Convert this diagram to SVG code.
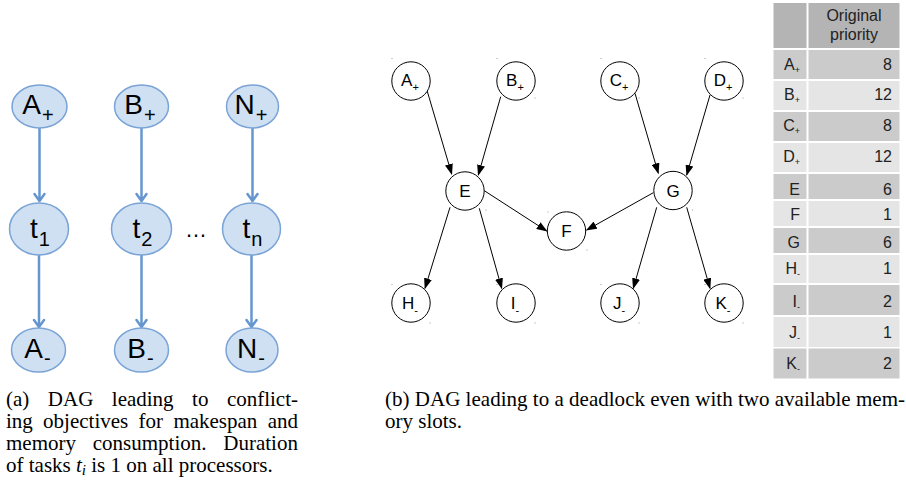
<svg xmlns="http://www.w3.org/2000/svg" width="906" height="491" viewBox="0 0 906 491">
<defs>
<style>
.bl{fill:#cfe0f3;stroke:#7aa3d6;stroke-width:1.5}
.ba{stroke:#6596cf;stroke-width:2.5;fill:none;stroke-linecap:round;stroke-linejoin:round}
.bt{font-family:"Liberation Sans",Arial,sans-serif;font-size:28px;fill:#000;text-anchor:middle}
.bs{font-size:20px}
.nc{fill:#fff;stroke:#000;stroke-width:1}
.nt{font-family:"Liberation Sans",Arial,sans-serif;font-size:17px;fill:#000;text-anchor:middle}
.ns{font-size:11px}
.ed{stroke:#000;stroke-width:1;fill:none}
.dt{fill:#999}
.dk{fill:#cbcbcb}
.lt{fill:#e5e5e5}
.hd{fill:#b4b4b4}
.tl{font-family:"Liberation Sans",Arial,sans-serif;font-size:16px;fill:#222;text-anchor:end}
.tn{font-family:"Liberation Sans",Arial,sans-serif;font-size:16px;fill:#222;text-anchor:end}
.th{font-family:"Liberation Sans",Arial,sans-serif;font-size:16px;fill:#222;text-anchor:middle}
.ts{font-size:9px}
.cap{font-family:"Liberation Serif","Times New Roman",serif;font-size:21px;fill:#000}
</style>
<marker id="ah" markerWidth="11" markerHeight="8" refX="10" refY="4" orient="auto" markerUnits="userSpaceOnUse">
<path d="M0,0 L11,4 L0,8 z" fill="#000"/>
</marker>
</defs>

<!-- (a) left DAG -->
<g id="a-connectors">
<path class="ba" d="M39.5,128 V201 M34.5,194 L39.5,201 L44.5,194"/>
<path class="ba" d="M39,255 V327 M34,320 L39,327 L44,320"/>
<path class="ba" d="M141.5,128 V201 M136.5,194 L141.5,201 L146.5,194"/>
<path class="ba" d="M141.5,255 V327 M136.5,320 L141.5,327 L146.5,320"/>
<path class="ba" d="M252.5,128 V201 M247.5,194 L252.5,201 L257.5,194"/>
<path class="ba" d="M251.5,255 V327 M246.5,320 L251.5,327 L256.5,320"/>
</g>
<g id="a-Aplus"><ellipse class="bl" cx="39.5" cy="106.5" rx="27.5" ry="21.5"/><text class="bt" x="38" y="114">A<tspan class="bs" dx="1" dy="8">+</tspan></text></g>
<g id="a-Bplus"><ellipse class="bl" cx="141.5" cy="106.5" rx="27" ry="21.5"/><text class="bt" x="140" y="114">B<tspan class="bs" dx="1" dy="8">+</tspan></text></g>
<g id="a-Nplus"><ellipse class="bl" cx="252.5" cy="106.5" rx="26" ry="21.5"/><text class="bt" x="251" y="114">N<tspan class="bs" dx="1" dy="8">+</tspan></text></g>
<g id="a-t1"><ellipse class="bl" cx="39" cy="229" rx="29.5" ry="26"/><text class="bt" x="40" y="238">t<tspan class="bs" dx="1" dy="8">1</tspan></text></g>
<g id="a-t2"><ellipse class="bl" cx="141.5" cy="229" rx="30" ry="26"/><text class="bt" x="142.5" y="238">t<tspan class="bs" dx="1" dy="8">2</tspan></text></g>
<g id="a-tn"><ellipse class="bl" cx="251.5" cy="229" rx="29" ry="26"/><text class="bt" x="252.5" y="238">t<tspan class="bs" dx="1" dy="8">n</tspan></text></g>
<g id="a-dots"><text class="bt" x="196" y="237" style="font-size:22px">…</text></g>
<g id="a-Aminus"><ellipse class="bl" cx="38.5" cy="350" rx="27" ry="22"/><text class="bt" x="37.5" y="358">A<tspan class="bs" dx="1" dy="7">-</tspan></text></g>
<g id="a-Bminus"><ellipse class="bl" cx="141.5" cy="350" rx="27" ry="22"/><text class="bt" x="140.5" y="358">B<tspan class="bs" dx="1" dy="7">-</tspan></text></g>
<g id="a-Nminus"><ellipse class="bl" cx="252" cy="350" rx="26" ry="22"/><text class="bt" x="251" y="358">N<tspan class="bs" dx="1" dy="7">-</tspan></text></g>

<!-- (b) right DAG -->
<g id="b-connectors">
<line class="ed" x1="426.7" y1="89.3" x2="451.7" y2="174" marker-end="url(#ah)"/>
<line class="ed" x1="500.7" y1="96.7" x2="478.3" y2="175" marker-end="url(#ah)"/>
<line class="ed" x1="635" y1="93.3" x2="658.3" y2="173.3" marker-end="url(#ah)"/>
<line class="ed" x1="710" y1="95" x2="686.7" y2="175" marker-end="url(#ah)"/>
<line class="ed" x1="484.3" y1="190.7" x2="546.7" y2="231" marker-end="url(#ah)"/>
<line class="ed" x1="653.3" y1="192.7" x2="586.7" y2="230" marker-end="url(#ah)"/>
<line class="ed" x1="450" y1="207.3" x2="425" y2="288.3" marker-end="url(#ah)"/>
<line class="ed" x1="479.3" y1="208.3" x2="501.7" y2="288.3" marker-end="url(#ah)"/>
<line class="ed" x1="656.7" y1="207.3" x2="633.3" y2="288.3" marker-end="url(#ah)"/>
<line class="ed" x1="686.7" y1="207.3" x2="710" y2="288.3" marker-end="url(#ah)"/>
</g>
<g id="b-Aplus"><circle class="nc" cx="411" cy="81" r="19.2"/><text class="nt" x="410" y="86">A<tspan class="ns" dy="5">+</tspan></text><rect class="dt" x="391.5" y="58" width="1" height="1"/><rect class="dt" x="429.5" y="97.5" width="1" height="1"/></g>
<g id="b-Bplus"><circle class="nc" cx="516" cy="81" r="19.2"/><text class="nt" x="515" y="86">B<tspan class="ns" dy="5">+</tspan></text><rect class="dt" x="496.5" y="58" width="1" height="1"/><rect class="dt" x="534.5" y="97.5" width="1" height="1"/></g>
<g id="b-Cplus"><circle class="nc" cx="620" cy="81" r="19.2"/><text class="nt" x="619" y="86">C<tspan class="ns" dy="5">+</tspan></text><rect class="dt" x="600.5" y="58" width="1" height="1"/><rect class="dt" x="638.5" y="97.5" width="1" height="1"/></g>
<g id="b-Dplus"><circle class="nc" cx="724" cy="81" r="19.2"/><text class="nt" x="723" y="86">D<tspan class="ns" dy="5">+</tspan></text><rect class="dt" x="704.5" y="58" width="1" height="1"/><rect class="dt" x="742.5" y="97.5" width="1" height="1"/></g>
<g id="b-E"><circle class="nc" cx="465" cy="191" r="19.2"/><text class="nt" x="465" y="197">E</text><rect class="dt" x="485.5" y="209.5" width="1" height="1"/></g>
<g id="b-F"><circle class="nc" cx="566.5" cy="231" r="19.2"/><text class="nt" x="566.5" y="237">F</text><rect class="dt" x="547.5" y="211.5" width="1" height="1"/><rect class="dt" x="586.5" y="249.5" width="1" height="1"/></g>
<g id="b-G"><circle class="nc" cx="673" cy="190.5" r="19.2"/><text class="nt" x="673" y="196.5">G</text><rect class="dt" x="692" y="209.5" width="1" height="1"/></g>
<g id="b-Hminus"><circle class="nc" cx="411" cy="303" r="19.2"/><text class="nt" x="410" y="309">H<tspan class="ns" dy="5">-</tspan></text><rect class="dt" x="391.5" y="284" width="1" height="1"/><rect class="dt" x="429.5" y="322.5" width="1" height="1"/></g>
<g id="b-Iminus"><circle class="nc" cx="516" cy="303" r="19.2"/><text class="nt" x="515" y="309">I<tspan class="ns" dy="5">-</tspan></text><rect class="dt" x="496.5" y="284" width="1" height="1"/><rect class="dt" x="534.5" y="322.5" width="1" height="1"/></g>
<g id="b-Jminus"><circle class="nc" cx="620" cy="303" r="19.2"/><text class="nt" x="619" y="309">J<tspan class="ns" dy="5">-</tspan></text><rect class="dt" x="600.5" y="284" width="1" height="1"/><rect class="dt" x="638.5" y="322.5" width="1" height="1"/></g>
<g id="b-Kminus"><circle class="nc" cx="724" cy="303" r="19.2"/><text class="nt" x="723" y="309">K<tspan class="ns" dy="5">-</tspan></text><rect class="dt" x="704.5" y="284" width="1" height="1"/><rect class="dt" x="742.5" y="322.5" width="1" height="1"/></g>

<!-- priority table -->
<g id="table">
<rect class="hd" x="773.5" y="3" width="33" height="45"/>
<rect class="hd" x="808.5" y="3" width="91" height="45"/>
<text class="th" x="854" y="21">Original</text>
<text class="th" x="854" y="40">priority</text>

<rect class="dk" x="773.5" y="50" width="33" height="29"/><rect class="dk" x="808.5" y="50" width="91" height="29"/>
<text class="tl" x="800" y="69.5">A<tspan class="ts" dy="3">+</tspan></text><text class="tn" x="892" y="69.5">8</text>

<rect class="lt" x="773.5" y="81" width="33" height="29"/><rect class="lt" x="808.5" y="81" width="91" height="29"/>
<text class="tl" x="800" y="100">B<tspan class="ts" dy="3">+</tspan></text><text class="tn" x="892" y="100">12</text>

<rect class="dk" x="773.5" y="112" width="33" height="29"/><rect class="dk" x="808.5" y="112" width="91" height="29"/>
<text class="tl" x="800" y="131">C<tspan class="ts" dy="3">+</tspan></text><text class="tn" x="892" y="131">8</text>

<rect class="lt" x="773.5" y="143" width="33" height="29"/><rect class="lt" x="808.5" y="143" width="91" height="29"/>
<text class="tl" x="800" y="162">D<tspan class="ts" dy="3">+</tspan></text><text class="tn" x="892" y="162">12</text>

<rect class="dk" x="773.5" y="174" width="33" height="25"/><rect class="dk" x="808.5" y="174" width="91" height="25"/>
<text class="tl" x="800" y="195">E</text><text class="tn" x="892" y="195">6</text>

<rect class="lt" x="773.5" y="201" width="33" height="25"/><rect class="lt" x="808.5" y="201" width="91" height="25"/>
<text class="tl" x="800" y="220">F</text><text class="tn" x="892" y="220">1</text>

<rect class="dk" x="773.5" y="228" width="33" height="25"/><rect class="dk" x="808.5" y="228" width="91" height="25"/>
<text class="tl" x="800" y="248">G</text><text class="tn" x="892" y="248">6</text>

<rect class="lt" x="773.5" y="255" width="33" height="28"/><rect class="lt" x="808.5" y="255" width="91" height="28"/>
<text class="tl" x="800" y="274">H<tspan class="ts" dy="3">-</tspan></text><text class="tn" x="892" y="274">1</text>

<rect class="dk" x="773.5" y="285" width="33" height="30"/><rect class="dk" x="808.5" y="285" width="91" height="30"/>
<text class="tl" x="800" y="307">I<tspan class="ts" dy="3">-</tspan></text><text class="tn" x="892" y="307">2</text>

<rect class="lt" x="773.5" y="317" width="33" height="30"/><rect class="lt" x="808.5" y="317" width="91" height="30"/>
<text class="tl" x="800" y="338">J<tspan class="ts" dy="3">-</tspan></text><text class="tn" x="892" y="338">1</text>

<rect class="dk" x="773.5" y="348.5" width="33" height="30"/><rect class="dk" x="808.5" y="348.5" width="91" height="30"/>
<text class="tl" x="800" y="368.5">K<tspan class="ts" dy="3">-</tspan></text><text class="tn" x="892" y="368.5">2</text>
</g>

<!-- captions -->
<g id="caption-a">
<text class="cap" y="406"><tspan x="6">(a)</tspan><tspan x="47.8">DAG</tspan><tspan x="111.8">leading</tspan><tspan x="192.1">to</tspan><tspan x="226.9">conflict-</tspan></text>
<text class="cap" y="428"><tspan x="6">ing</tspan><tspan x="43.1">objectives</tspan><tspan x="138.6">for</tspan><tspan x="173.4">makespan</tspan><tspan x="267.7">and</tspan></text>
<text class="cap" y="450"><tspan x="6">memory</tspan><tspan x="92.8">consumption.</tspan><tspan x="223.3">Duration</tspan></text>
<text class="cap" x="6" y="472">of tasks <tspan font-style="italic">t</tspan><tspan font-style="italic" font-size="15" dy="3">i</tspan><tspan dy="-3"> is 1 on all processors.</tspan></text>
</g>
<g id="caption-b">
<text class="cap" x="385" y="406" textLength="520" lengthAdjust="spacing">(b) DAG leading to a deadlock even with two available mem-</text>
<text class="cap" x="385" y="428">ory slots.</text>
</g>
</svg>
